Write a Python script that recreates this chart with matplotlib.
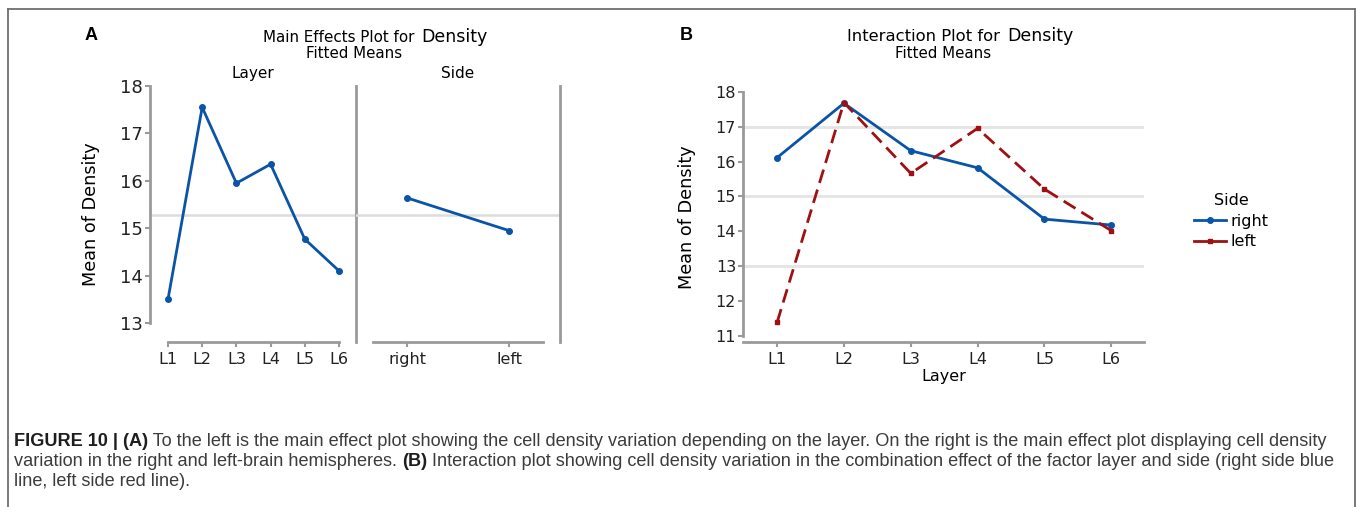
import numpy as np
import matplotlib.pyplot as plt
from matplotlib.lines import Line2D

# values
layers = ["L1", "L2", "L3", "L4", "L5", "L6"]
sides = ["right", "left"]
layer_means = [13.50, 17.55, 15.95, 16.35, 14.77, 14.10]
side_means = [15.64, 14.95]
grand_mean = 15.28
right_means = [16.11, 17.67, 16.31, 15.82, 14.35, 14.18]
left_means = [11.39, 17.69, 15.66, 16.95, 15.21, 14.02]
yticks_a = [13, 14, 15, 16, 17, 18]
yticks_b = [11, 12, 13, 14, 15, 16, 17, 18]
grid_b = [13, 15, 17]

W, H = 1358, 507
BLUE = "#0a54a8"
RED = "#9e1012"
GRAY = "#9a9a9a"
REF = "#dcdcdc"

plt.rcParams["font.family"] = "DejaVu Sans"
fig = plt.figure(figsize=(W / 100, H / 100), dpi=100)


def px_axes(x0, y0, x1, y1):
    # axes from pixel box (top-left origin)
    return fig.add_axes([x0 / W, 1 - y1 / H, (x1 - x0) / W, (y1 - y0) / H])


def ftext(x, y, s, **kw):
    return fig.text(x / W, 1 - y / H, s, **kw)


def style(ax):
    for sp in ax.spines.values():
        sp.set_color(GRAY)
        sp.set_linewidth(2)
    ax.tick_params(colors=GRAY, labelcolor="#222222", width=1.5, length=3.5,
                   labelsize=11.5)
    ax.tick_params(axis="y", pad=1.5)
    ax.set_facecolor("none")


# ---------------- panel A ----------------
ax1 = px_axes(150, 86, 356, 342)
ax1.set_ylim(12.6, 18)
ax1.set_xlim(-0.526, 5.497)
ax1.plot(range(len(layers)), layer_means, color=BLUE, lw=2, marker="o", ms=4)
ax1.axhline(grand_mean, color=REF, lw=1.8, zorder=0)
style(ax1)
ax1.spines["top"].set_visible(False)
ax1.spines["left"].set_bounds(13, 18)
ax1.spines["bottom"].set_bounds(0, 5)
ax1.set_yticks(yticks_a)
ax1.set_yticklabels([str(v) for v in yticks_a], fontsize=13)
ax1.set_xticks(range(len(layers)))
ax1.set_xticklabels(layers)
ax1.set_ylabel("Mean of Density", fontsize=12.7, labelpad=14.5)

ax2 = px_axes(356, 86, 560, 342)
ax2.set_ylim(12.6, 18)
ax2.set_xlim(-0.5, 1.5)
ax2.plot(range(len(sides)), side_means, color=BLUE, lw=2, marker="o", ms=4)
ax2.axhline(grand_mean, color=REF, lw=1.8, zorder=0)
style(ax2)
ax2.spines["top"].set_visible(False)
ax2.spines["left"].set_visible(False)
ax2.spines["bottom"].set_bounds(-0.333, 1.333)
ax2.set_yticks([])
ax2.set_xticks(range(len(sides)))
ax2.set_xticklabels(sides)

ftext(91, 36, "A", fontsize=13, fontweight="bold", family="Liberation Sans",
      ha="center", va="center")
ftext(419, 42, "Main Effects Plot for ", fontsize=10.9, ha="right", va="baseline")
ftext(421, 42, "Density", fontsize=12.5, ha="left", va="baseline")
ftext(354, 54, "Fitted Means", fontsize=10.8, ha="center", va="center")
ftext(253, 73, "Layer", fontsize=11, ha="center", va="center")
ftext(458, 73, "Side", fontsize=11, ha="center", va="center")

# ---------------- panel B ----------------
ax3 = px_axes(743, 91.7, 1144, 342)
ax3.set_ylim(10.83, 18)
ax3.set_xlim(-0.51, 5.49)
for g in grid_b:
    ax3.axhline(g, color="#e4e4e4", lw=2, zorder=0)
x = np.arange(len(layers))
ax3.plot(x, right_means, color=BLUE, lw=2, marker="o", ms=4, label="right")
ax3.plot(x, left_means, color=RED, lw=2, ls=(0, (5, 2.5)), marker="s", ms=3.5,
         label="left")
style(ax3)
ax3.spines["top"].set_visible(False)
ax3.spines["right"].set_visible(False)
ax3.spines["left"].set_bounds(11, 18)
ax3.set_yticks(yticks_b)
ax3.set_xticks(x)
ax3.set_xticklabels(layers)
ax3.set_ylabel("Mean of Density", fontsize=12.7, labelpad=14)
ax3.set_xlabel("Layer", fontsize=11.5, labelpad=2)
handles = [Line2D([], [], color=BLUE, lw=2, marker="o", ms=4),
           Line2D([], [], color=RED, lw=2, marker="s", ms=3.5)]
leg = ax3.legend(handles, ["right", "left"], title="Side", frameon=False,
                 loc="upper left", bbox_to_anchor=(1186 / W, 1 - 185 / H),
                 bbox_transform=fig.transFigure, fontsize=11.5,
                 title_fontsize=11.5, handlelength=2.0, handletextpad=0.3,
                 labelspacing=0.35, borderpad=0)

ftext(686, 36, "B", fontsize=13, fontweight="bold", family="Liberation Sans",
      ha="center", va="center")
ftext(1005, 41, "Interaction Plot for ", fontsize=11.8, ha="right", va="baseline")
ftext(1007, 41, "Density", fontsize=12.5, ha="left", va="baseline")
ftext(943, 54, "Fitted Means", fontsize=10.8, ha="center", va="center")

# ---------------- border and caption ----------------
bx0, by0, bx1 = 8, 9, 1355
for xs, ys in [((bx0, bx0), (H + 5, by0)), ((bx0, bx1), (by0, by0)),
               ((bx1, bx1), (by0, H + 5))]:
    fig.add_artist(Line2D([v / W for v in xs], [1 - v / H for v in ys],
                          color="#6e6e6e", lw=1.3))

caption = [
    [("FIGURE 10 | (A)", "bold"),
     (" To the left is the main effect plot showing the cell density variation "
      "depending on the layer. On the right is the main effect plot displaying "
      "cell density", "normal")],
    [("variation in the right and left-brain hemispheres. ", "normal"),
     ("(B)", "bold"),
     (" Interaction plot showing cell density variation in the combination "
      "effect of the factor layer and side (right side blue", "normal")],
    [("line, left side red line).", "normal")],
]
line_y = [441, 461.5, 482]
fig.canvas.draw()
renderer = fig.canvas.get_renderer()
for segs, yy in zip(caption, line_y):
    xx = 14
    for s, wgt in segs:
        t = ftext(xx, yy, s, fontsize=13.1, family="Liberation Sans",
                  fontweight=wgt, color="#1e1e1e" if wgt == "bold" else "#3c3c3c",
                  ha="left", va="center")
        bb = t.get_window_extent(renderer=renderer)
        xx += bb.width

fig.savefig("out.png", dpi=100)
